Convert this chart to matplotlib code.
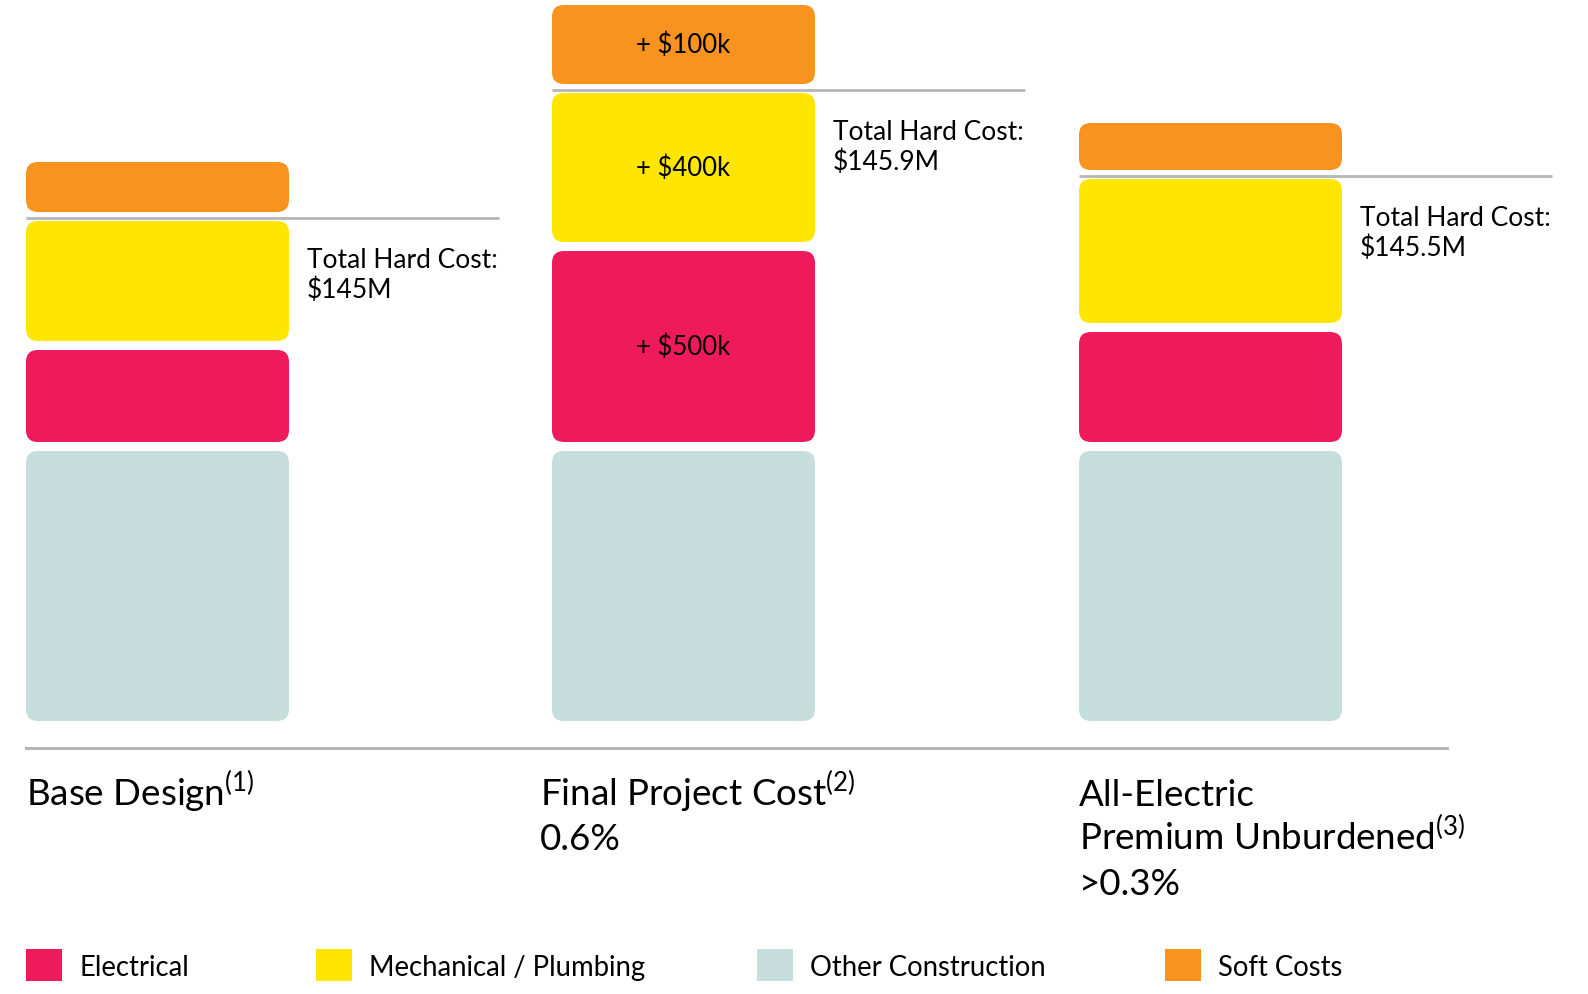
import matplotlib
matplotlib.use("Agg")
import matplotlib.pyplot as plt
from matplotlib.patches import FancyBboxPatch, Rectangle

plt.rcParams['font.family'] = ['Lato', 'DejaVu Sans']
plt.rcParams['mathtext.fontset'] = 'custom'
plt.rcParams['mathtext.rm'] = 'Lato'

# data (segment heights, stacked bottom -> top)
scenarios = ["Base Design", "Final Project Cost", "All-Electric Premium Unburdened"]
other = [270, 270, 270]
electrical = [92, 191, 110]
mechanical = [120, 149, 144]
soft = [50, 79, 47]
totals = ["$145M", "$145.9M", "$145.5M"]
deltas = [None, ["+ $500k", "+ $400k", "+ $100k"], None]
titles = [["Base Design$^{(1)}$"],
          ["Final Project Cost$^{(2)}$", "0.6%"],
          ["All-Electric", "Premium Unburdened$^{(3)}$", ">0.3%"]]
legend_names = ["Electrical", "Mechanical / Plumbing", "Other Construction", "Soft Costs"]

c_elec = "#EF1A5C"
c_mech = "#FFE600"
c_other = "#C6DEDB"
c_soft = "#F7931E"
c_line = "#B5B5BA"

W, H = 1588, 995
fig = plt.figure(figsize=(W / 100, H / 100), dpi=100)
ax = fig.add_axes([0, 0, 1, 1])
ax.set_xlim(0, W)
ax.set_ylim(722 - H, 722)  # y = 0 at the bottom of the bars
ax.axis("off")

lefts = [26, 552, 1079]
bw = 263
gap = 9
r = 12


def seg(x, y0, h, col):
    ax.add_patch(FancyBboxPatch((x, y0), bw, h,
                                boxstyle=f"round,pad=0,rounding_size={r}",
                                fc=col, ec="none"))


for i, x in enumerate(lefts):
    y = 0
    segs = [(other[i], c_other), (electrical[i], c_elec),
            (mechanical[i], c_mech), (soft[i], c_soft)]
    centers = []
    for k, (h, col) in enumerate(segs):
        seg(x, y, h, col)
        centers.append(y + h / 2)
        if k == 2:
            mech_top = y + h
        y += h + gap
    # hard-cost line between mechanical and soft costs
    ly = mech_top + gap / 2 - 1
    ax.plot([x, x + 473], [ly, ly], color=c_line, lw=2, solid_capstyle="butt")
    ax.text(x + bw + 18, mech_top - 26, "Total Hard Cost:\n" + totals[i],
            fontsize=19, va="top", ha="left", linespacing=1.2)
    if deltas[i]:
        for lab, cy in zip(deltas[i], centers[1:]):
            ax.text(x + bw / 2, cy, lab, fontsize=18.5, ha="center", va="center")

# baseline
ax.plot([26, 1447], [722 - 749, 722 - 749], color=c_line, lw=2.2)

# scenario titles, one text per line so the spacing stays even
title_x = [26, 540, 1079]
for tx, lines in zip(title_x, titles):
    for j, line in enumerate(lines):
        ax.text(tx, 722 - 806 - 44.5 * j, line, fontsize=26.5,
                ha="left", va="baseline")

# legend
leg_x = [26, 316, 757, 1165]
leg_cols = [c_elec, c_mech, c_other, c_soft]
for lx, col, name in zip(leg_x, leg_cols, legend_names):
    ax.add_patch(Rectangle((lx, 722 - 982), 36, 32, fc=col, ec="none"))
    ax.text(lx + 53, 722 - 968, name, fontsize=19.8, ha="left", va="center")

fig.savefig("out.png", dpi=100)
